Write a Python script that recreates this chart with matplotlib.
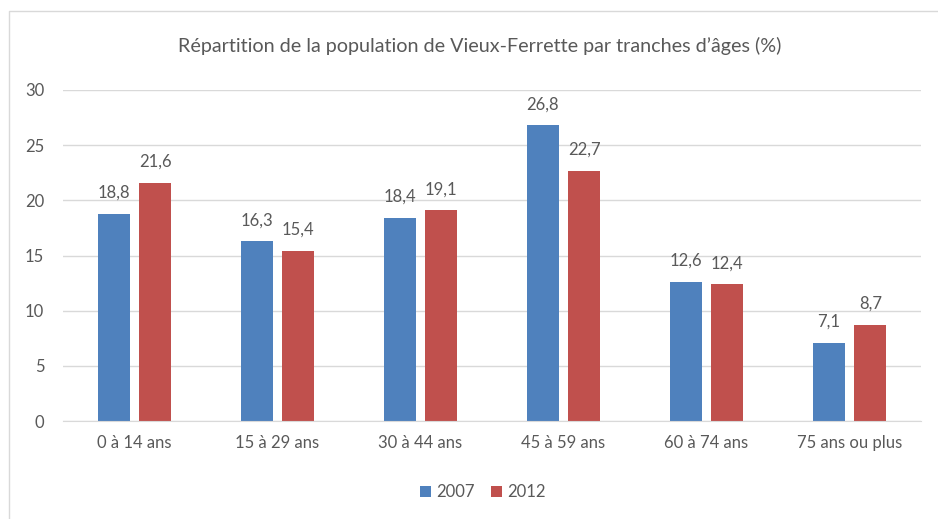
import numpy as np
import matplotlib
matplotlib.use('Agg')
from matplotlib import pyplot as plt
from matplotlib.lines import Line2D

categories = ['0 à 14 ans', '15 à 29 ans', '30 à 44 ans', '45 à 59 ans', '60 à 74 ans', '75 ans ou plus']
values_2007 = [18.8, 16.3, 18.4, 26.8, 12.6, 7.1]
values_2012 = [21.6, 15.4, 19.1, 22.7, 12.4, 8.7]
series_names = ['2007', '2012']
title = 'Répartition de la population de Vieux-Ferrette par tranches d’âges (%)'

plt.rcParams['font.family'] = ['Lato', 'DejaVu Sans']
text_color = '#595959'
blue = '#4F81BD'
red = '#C0504D'

W, H = 938, 519
fig = plt.figure(figsize=(W / 100, H / 100), dpi=100)
fig.patch.set_facecolor('white')

# chart border (only top and left are visible, the rest is cut off)
fig.lines.append(Line2D([8.5 / W, 8.5 / W, 1.0], [0.0, 1 - 11 / H, 1 - 11 / H],
                        transform=fig.transFigure, color='#D9D9D9', linewidth=1.0))

left, right = 63, 921
bottom, top = 421, 90
ax = fig.add_axes([left / W, 1 - bottom / H, (right - left) / W, (bottom - top) / H])

x = np.arange(len(categories))
width = 0.225
offset = 0.146
bars1 = ax.bar(x - offset, values_2007, width, color=blue, label=series_names[0], zorder=3)
bars2 = ax.bar(x + offset, values_2012, width, color=red, label=series_names[1], zorder=3)

for bars in (bars1, bars2):
    for b in bars:
        h = b.get_height()
        ax.annotate(('%.1f' % h).replace('.', ','), (b.get_x() + b.get_width() / 2, h),
                    xytext=(0, 11.5), textcoords='offset points', ha='center', va='baseline',
                    fontsize=12, color=text_color)

ax.set_xlim(-0.5, len(categories) - 0.5)
ax.set_ylim(0, 30)
ax.set_yticks(np.arange(0, 31, 5))
ax.set_xticks(x)
ax.set_xticklabels(categories)
ax.tick_params(axis='both', length=0, labelsize=12, labelcolor=text_color)
ax.tick_params(axis='y', pad=13.5)
ax.tick_params(axis='x', pad=10)
ax.grid(axis='y', color='#D9D9D9', linewidth=1, zorder=0)
for s in ['top', 'right', 'left']:
    ax.spines[s].set_visible(False)
ax.spines['bottom'].set_color('#D9D9D9')
ax.spines['bottom'].set_zorder(4)

fig.text(480 / W, 1 - 46 / H, title, ha='center', va='center', fontsize=14.2, color=text_color)

fig.legend(handles=[bars1, bars2], labels=series_names, loc='center', bbox_to_anchor=(483 / W, 1 - 492 / H),
           ncol=2, frameon=False, fontsize=12, labelcolor=text_color, handlelength=0.65, handleheight=0.65,
           handletextpad=0.3, columnspacing=1.0)

fig.savefig('out.png', dpi=100, facecolor='white')
